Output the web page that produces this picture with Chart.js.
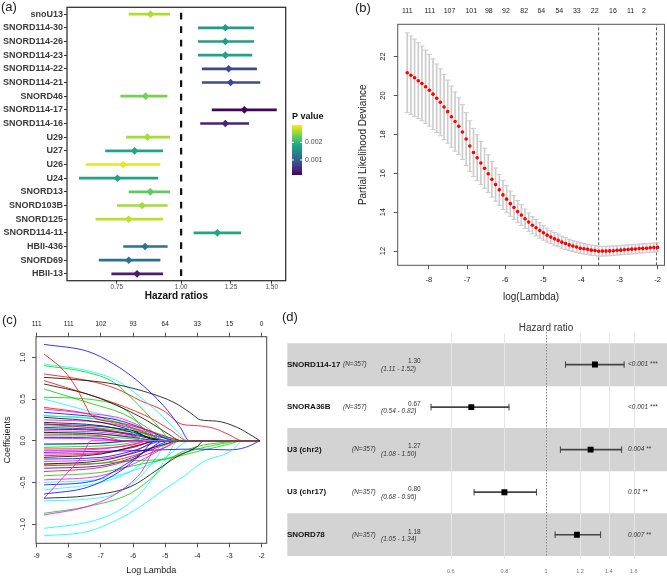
<!DOCTYPE html>
<html>
<head>
<meta charset="utf-8">
<script src="https://cdn.jsdelivr.net/npm/chart.js@4.4.1/dist/chart.umd.min.js"></script>
<style>
  body { margin: 0; background: #fff; }
  #page { position: relative; width: 667px; height: 576px; overflow: hidden; font-family: "Liberation Sans", Arial, sans-serif; }
  canvas { position: absolute; }
  .tag { position: absolute; font-size: 13px; line-height: 13px; color: #222; }
</style>
</head>
<body>
<div id="page">
  <canvas id="chartA" width="333" height="305" style="left:0;top:0"></canvas>
  <canvas id="chartB" width="334" height="305" style="left:333px;top:0"></canvas>
  <canvas id="chartC" width="280" height="271" style="left:0;top:305px"></canvas>
  <canvas id="chartD" width="387" height="276" style="left:280px;top:300px"></canvas>
  <div class="tag" style="left:1px;top:0px">(a)</div>
  <div class="tag" style="left:355px;top:1px">(b)</div>
  <div class="tag" style="left:2px;top:313px">(c)</div>
  <div class="tag" style="left:282px;top:310px">(d)</div>
</div>
<script>
// ---------- panel (a): univariate hazard ratios ----------
const snoNames = ['snoU13','SNORD114-30','SNORD114-26','SNORD114-23','SNORD114-22','SNORD114-21','SNORD46',
  'SNORD114-17','SNORD114-16','U29','U27','U26','U24','SNORD13','SNORD103B','SNORD125','SNORD114-11',
  'HBII-436','SNORD69','HBII-13'];
const hrA = [0.872,1.219,1.219,1.219,1.237,1.248,0.853,1.327,1.219,0.860,0.812,0.772,0.752,0.871,0.840,0.791,1.176,0.851,0.791,0.821];
const loA = [0.792,1.080,1.080,1.080,1.099,1.099,0.763,1.149,1.091,0.783,0.713,0.653,0.634,0.792,0.752,0.683,1.059,0.773,0.693,0.733];
const hiA = [0.950,1.384,1.384,1.373,1.402,1.423,0.939,1.532,1.353,0.950,0.921,0.910,0.901,0.950,0.940,0.921,1.306,0.940,0.910,0.921];
const pA  = [0.00264,0.0017,0.0017,0.00178,0.00077,0.0008,0.0024,0.00018,0.00043,0.0026,0.0018,0.0029,0.00176,0.00227,0.0026,0.0027,0.0018,0.0012,0.0012,0.00038];
const hrTicksA = [0.75, 1.00, 1.25, 1.50];
const pLegendTicks = [0.001, 0.002];
const pMin = 0.00015, pMax = 0.00298;

// ---------- panel (b): cross-validation curve ----------
const cvLogLambda = [-8.570,-8.473,-8.377,-8.280,-8.184,-8.087,-7.990,-7.894,-7.797,-7.701,
  -7.604,-7.507,-7.411,-7.314,-7.218,-7.121,-7.024,-6.928,-6.831,-6.735,
  -6.638,-6.541,-6.445,-6.348,-6.252,-6.155,-6.058,-5.962,-5.865,-5.769,
  -5.672,-5.575,-5.479,-5.382,-5.286,-5.189,-5.092,-4.996,-4.899,-4.803,
  -4.706,-4.609,-4.513,-4.416,-4.320,-4.223,-4.126,-4.030,-3.933,-3.837,
  -3.740,-3.643,-3.547,-3.450,-3.354,-3.257,-3.160,-3.064,-2.967,-2.871,
  -2.774,-2.677,-2.581,-2.484,-2.388,-2.291,-2.194,-2.098,-2.001];
const cvMean = [21.17,21.04,20.91,20.76,20.62,20.45,20.27,20.07,19.86,19.65,
  19.41,19.17,18.91,18.66,18.42,18.12,17.76,17.40,17.07,16.80,
  16.53,16.26,15.98,15.69,15.42,15.15,14.89,14.67,14.44,14.24,
  14.03,13.85,13.66,13.49,13.33,13.20,13.06,12.94,12.82,12.72,
  12.63,12.55,12.46,12.39,12.32,12.26,12.21,12.15,12.12,12.09,
  12.05,12.03,11.99,12.00,12.00,12.01,12.02,12.04,12.05,12.07,
  12.08,12.10,12.11,12.13,12.14,12.15,12.17,12.18,12.19];
const cvSE = [2.05,2.02,1.99,1.95,1.92,1.88,1.85,1.81,1.76,1.72,
  1.67,1.62,1.57,1.52,1.46,1.41,1.36,1.30,1.24,1.18,
  1.10,1.03,0.97,0.91,0.85,0.80,0.75,0.70,0.65,0.61,
  0.57,0.53,0.50,0.47,0.44,0.42,0.40,0.38,0.36,0.34,
  0.33,0.32,0.31,0.30,0.29,0.28,0.28,0.27,0.27,0.26,
  0.26,0.26,0.25,0.25,0.25,0.25,0.24,0.24,0.24,0.24,
  0.24,0.24,0.24,0.23,0.23,0.23,0.23,0.23,0.23];
const lambdaMin = -3.547, lambda1se = -2.03;
const cvTopAt = [-8.57,-7.98,-7.46,-6.89,-6.43,-5.98,-5.50,-5.05,-4.58,-4.12,-3.65,-3.17,-2.71,-2.36];
const cvTopLabels = ['111','111','107','101','98','92','82','64','54','33','22','16','11','2'];
const cvXTicks = [-8,-7,-6,-5,-4,-3,-2];
const cvYTicks = [12,14,16,18,20,22];

// ---------- panel (c): coefficient paths [log lambda, coefficient] ----------
const coefPaths = [
  [[-8.77,0.76],[-7.4,0.72],[-6.6,0.68],[-5.56,0.58],[-4.73,0.46],[-4.2,0.33],[-3.9,0.25],[-3.4,0.235],[-2.76,0.16],[-2.3,0.06],[-2.05,0]],
  [[-8.77,1.04],[-8.15,0.84],[-7.74,0.62],[-7.45,0.40],[-7.3,0.30],[-6.5,0.22],[-5.5,0.12],[-4.8,0.03],[-4.5,0],[-2.05,0]],
  [[-8.77,0.90],[-7.43,0.82],[-6.6,0.70],[-6.07,0.52],[-5.56,0.32],[-5.1,0.12],[-4.8,0],[-2.05,0]],
  [[-8.77,1.155],[-7.4,1.07],[-6.6,0.92],[-5.87,0.72],[-5.05,0.42],[-4.53,0.16],[-4.25,0],[-2.05,0]],
  [[-8.77,0.92],[-7.43,0.84],[-6.5,0.72],[-5.77,0.52],[-5.05,0.28],[-4.6,0.1],[-4.3,0],[-2.05,0]],
  [[-8.77,0.38],[-7.5,0.33],[-6.5,0.28],[-5.8,0.18],[-5.0,0],[-2.05,0]],

  [[-8.77,0.68],[-7.43,0.56],[-6.6,0.44],[-5.56,0.24],[-4.9,0.08],[-4.5,0],[-2.05,0]],
  [[-8.77,0.80],[-7.4,0.72],[-6.5,0.62],[-5.77,0.48],[-5.05,0.36],[-4.5,0.2],[-4.0,0.18],[-3.5,0.15],[-3.0,0.07],[-2.6,0],[-2.05,0]],
  [[-8.77,0.62],[-7.43,0.46],[-6.3,0.32],[-5.5,0.14],[-5.0,0],[-2.05,0]],
  [[-8.77,0.34],[-7.5,0.30],[-6.5,0.25],[-5.5,0.12],[-4.7,0],[-2.05,0]],
  [[-8.77,0.50],[-7.43,0.36],[-6.5,0.25],[-6.0,0.1],[-5.6,0],[-2.05,0]],
  [[-8.77,-0.89],[-7.43,-0.79],[-6.5,-0.63],[-5.77,-0.39],[-5.1,0],[-2.05,0]],

  [[-8.77,0.28],[-7.0,0.22],[-6.0,0.12],[-5.2,0],[-2.05,0]],
  [[-8.77,0.72],[-7.43,0.56],[-6.5,0.44],[-5.5,0.28],[-4.8,0.12],[-4.3,0],[-2.05,0]],
  [[-8.77,0.52],[-7.43,0.50],[-6.2,0.36],[-5.7,0.15],[-5.3,0],[-2.05,0]],
  [[-8.77,-0.64],[-7.43,-0.56],[-6.5,-0.39],[-5.77,-0.17],[-5.3,0],[-2.05,0]],
  [[-8.77,0.30],[-7.0,0.26],[-6.0,0.18],[-5.0,0.05],[-4.5,0],[-2.05,0]],
  [[-8.77,-0.69],[-8.15,-0.43],[-7.6,-0.19],[-7.3,0],[-2.05,0]],

  [[-8.77,-0.69],[-7.43,-0.66],[-6.07,-0.55],[-5.25,-0.35],[-4.63,-0.19],[-4.0,-0.07],[-3.8,0],[-2.05,0]],
  [[-8.77,0.40],[-7.5,0.33],[-6.5,0.22],[-5.5,0.08],[-5.0,0],[-2.05,0]],
  [[-8.77,-0.87],[-7.43,-0.79],[-6.07,-0.63],[-5.25,-0.39],[-4.73,-0.19],[-4.0,-0.07],[-3.2,-0.02],[-2.55,0],[-2.05,0]],
  [[-8.77,-0.53],[-7.2,-0.48],[-6.3,-0.3],[-5.5,-0.1],[-5.0,0],[-2.05,0]],
  [[-8.77,-1.14],[-7.43,-1.09],[-6.5,-0.95],[-5.77,-0.79],[-5.05,-0.59],[-4.43,-0.43],[-3.8,-0.25],[-2.97,-0.13],[-2.55,0],[-2.05,0]],
  [[-8.77,-0.47],[-7.0,-0.42],[-6.0,-0.28],[-5.0,-0.08],[-4.6,0],[-2.05,0]],

  [[-8.77,-0.28],[-7.0,-0.24],[-6.0,-0.15],[-5.0,-0.04],[-4.6,0],[-2.05,0]],
  [[-8.77,-0.37],[-7.0,-0.32],[-6.0,-0.22],[-5.0,-0.08],[-4.5,0],[-2.05,0]],
  [[-8.77,-0.42],[-7.0,-0.38],[-6.0,-0.3],[-5.0,-0.22],[-4.0,-0.1],[-3.0,-0.02],[-2.6,0],[-2.05,0]],
  [[-8.77,-0.14],[-6.0,-0.12],[-4.0,-0.1],[-3.0,-0.11],[-2.5,-0.08],[-2.05,0]],
  [[-8.77,-1.05],[-7.43,-0.98],[-6.5,-0.85],[-5.87,-0.67],[-5.35,-0.43],[-4.94,-0.19],[-4.6,0],[-2.05,0]],
  [[-8.77,-0.12],[-7.0,-0.1],[-6.0,-0.04],[-5.5,0],[-2.05,0]],

  [[-8.77,-0.2],[-7.0,-0.16],[-5.8,-0.05],[-5.2,0],[-2.05,0]],
  [[-8.77,-0.18],[-7.0,-0.15],[-6.0,-0.08],[-5.3,0],[-2.05,0]],
  [[-8.77,-0.28],[-7.0,-0.27],[-6.0,-0.24],[-5.0,-0.22],[-4.0,-0.13],[-3.0,-0.04],[-2.6,0],[-2.05,0]],
  [[-8.77,-0.22],[-7.0,-0.2],[-6.0,-0.12],[-5.0,0],[-2.05,0]],
  [[-8.77,-0.72],[-7.43,-0.70],[-6.5,-0.63],[-5.77,-0.43],[-5.25,-0.19],[-4.9,0],[-2.05,0]],
  [[-8.77,0.12],[-7.0,0.1],[-6.0,0.05],[-5.4,0],[-2.05,0]],

  [[-8.77,0.22],[-7.0,0.18],[-6.0,0.1],[-5.0,0],[-2.05,0]],
  [[-8.77,0.2],[-7.0,0.14],[-6.0,0.06],[-5.5,0],[-2.05,0]],
  [[-8.77,-0.08],[-6.5,-0.05],[-5.5,0],[-2.05,0]],
  [[-8.77,0.16],[-7.0,0.13],[-6.0,0.08],[-4.8,0],[-2.05,0]],
  [[-8.77,-0.59],[-7.0,-0.50],[-6.0,-0.35],[-5.3,-0.12],[-4.8,0],[-2.05,0]],
  [[-8.77,0.03],[-7.0,0.02],[-6.2,0],[-2.05,0]],

  [[-8.77,0.10],[-7.0,0.08],[-6.0,0.04],[-5.2,0],[-2.05,0]],
  [[-8.77,0.08],[-7.0,0.06],[-6.3,0],[-2.05,0]],
  [[-8.77,0.18],[-7.0,0.15],[-6.0,0.1],[-5.0,0.04],[-4.4,0],[-2.05,0]],
  [[-8.77,0.04],[-7.0,0.03],[-6.5,0],[-2.05,0]],
  [[-8.77,-0.50],[-7.0,-0.46],[-6.0,-0.36],[-5.0,-0.2],[-4.2,0],[-2.05,0]],
  [[-8.77,0.25],[-7.0,0.22],[-6.0,0.15],[-5.0,0.05],[-4.5,0],[-2.05,0]],

  [[-8.77,-0.04],[-7.0,-0.03],[-6.0,0],[-2.05,0]],
  [[-8.77,-0.3],[-7.0,-0.27],[-6.0,-0.18],[-5.0,-0.05],[-4.6,0],[-2.05,0]],
  [[-8.77,0.06],[-7.0,0.05],[-6.0,0.02],[-5.6,0],[-2.05,0]],
  [[-8.77,-0.33],[-7.0,-0.3],[-6.0,-0.2],[-5.2,-0.05],[-4.8,0],[-2.05,0]],
  [[-8.77,-0.05],[-6.5,-0.02],[-6.0,0],[-2.05,0]],
  [[-8.77,-0.25],[-7.0,-0.22],[-6.0,-0.14],[-5.2,0],[-2.05,0]],

  [[-8.77,0.14],[-7.0,0.12],[-6.0,0.07],[-5.0,0],[-2.05,0]],
  [[-8.77,-0.1],[-7.0,-0.09],[-6.0,-0.05],[-5.5,0],[-2.05,0]],
  [[-8.77,0.3],[-7.0,0.25],[-6.0,0.14],[-5.2,0.02],[-4.9,0],[-2.05,0]],
  [[-8.77,0.2],[-7.0,0.17],[-6.0,0.12],[-5.0,0.03],[-4.6,0],[-2.05,0]],
  [[-8.77,0.1],[-7.0,0.08],[-6.0,0.03],[-5.6,0],[-2.05,0]],
  [[-8.77,-0.16],[-7.0,-0.14],[-6.0,-0.08],[-5.2,0],[-2.05,0]]
];
const coefXTicks = [-9,-8,-7,-6,-5,-4,-3,-2];
const coefTopLabels = ['111','111','102','93','64','33','15','0'];
const coefYTicks = [-1,-0.5,0,0.5,1];

// ---------- panel (d): multivariate hazard ratios ----------
const hrNames = ['SNORD114-17','SNORA36B','U3 (chr2)','U3 (chr17)','SNORD78'];
const hrD = [1.30,0.67,1.27,0.80,1.18];
const loD = [1.11,0.54,1.08,0.68,1.05];
const hiD = [1.52,0.82,1.50,0.95,1.34];
const nD = [357,357,357,357,357];
const pTextD = ['<0.001','<0.001','0.004','0.01','0.007'];
const starsD = ['***','***','**','**','**'];
const hrTicksD = [0.6,0.8,1,1.2,1.4,1.6];

// ---------- helpers ----------
const FONT = '"Liberation Sans", Arial, sans-serif';
Chart.defaults.font.family = FONT;
const rPalette = ['#000000','#FF0000','#00CD00','#0000FF','#00FFFF','#FF00FF'];
const viridisStops = ['#440154','#482475','#414487','#355f8d','#2a788e','#21918c','#22a884','#44bf70','#7ad151','#bddf26','#fde725'];

function hexRgb(h) { return [1,3,5].map(i => parseInt(h.substr(i,2),16)); }
function viridis(t) {
  t = Math.min(1, Math.max(0, t));
  const f = t * (viridisStops.length - 1);
  const i = Math.min(Math.floor(f), viridisStops.length - 2);
  const a = hexRgb(viridisStops[i]), b = hexRgb(viridisStops[i+1]), u = f - i;
  return 'rgb(' + a.map((v,k) => Math.round(v + (b[k]-v)*u)).join(',') + ')';
}
const colorsA = pA.map(p => viridis((p - pMin) / (pMax - pMin)));

function frame(color, width) {
  return { id: 'frame', afterDatasetsDraw(chart) {
    const {ctx, chartArea: a} = chart;
    ctx.save(); ctx.strokeStyle = color; ctx.lineWidth = width;
    ctx.strokeRect(a.left, a.top, a.right - a.left, a.bottom - a.top);
    ctx.restore();
  }};
}

function rotatedYLabels(offset, size, fmt) {
  return { id: 'rotY', afterDraw(chart) {
    const ctx = chart.ctx, ys = chart.scales.y;
    ctx.save();
    ctx.font = size + 'px ' + FONT; ctx.fillStyle = '#222';
    ctx.textAlign = 'center'; ctx.textBaseline = 'middle';
    ys.ticks.forEach(t => {
      ctx.save();
      ctx.translate(chart.chartArea.left - offset, ys.getPixelForValue(t.value));
      ctx.rotate(-Math.PI / 2);
      ctx.fillText(fmt(t.value), 0, 0);
      ctx.restore();
    });
    ctx.restore();
  }};
}

const noLegend = { legend: { display: false }, tooltip: { enabled: false } };

// ---------- chart (a) ----------
const refLineA = { id: 'refLineA', beforeDatasetsDraw(chart) {
  const {ctx, chartArea: a, scales: {x}} = chart;
  const px = x.getPixelForValue(1);
  ctx.save(); ctx.strokeStyle = '#111'; ctx.lineWidth = 2.2; ctx.setLineDash([6.8, 6.7]);
  ctx.beginPath(); ctx.moveTo(px, a.top + 5.4); ctx.lineTo(px, a.bottom - 2); ctx.stroke();
  ctx.restore();
}};

const colorBar = { id: 'colorBar', afterDraw(chart) {
  const ctx = chart.ctx;
  const x0 = 292, x1 = 302, yTop = 125, yBot = 175;
  ctx.save();
  const g = ctx.createLinearGradient(0, yBot, 0, yTop);
  viridisStops.forEach((c, i) => g.addColorStop(i / (viridisStops.length - 1), c));
  ctx.fillStyle = g; ctx.fillRect(x0, yTop, x1 - x0, yBot - yTop);
  ctx.strokeStyle = '#fff'; ctx.lineWidth = 1;
  ctx.font = '7px ' + FONT; ctx.textBaseline = 'middle'; ctx.textAlign = 'left';
  pLegendTicks.forEach(p => {
    const py = yBot - (p - pMin) / (pMax - pMin) * (yBot - yTop);
    ctx.beginPath(); ctx.moveTo(x0, py); ctx.lineTo(x0 + 2, py); ctx.moveTo(x1 - 2, py); ctx.lineTo(x1, py); ctx.stroke();
    ctx.fillStyle = '#4d4d4d'; ctx.fillText(p.toFixed(3), x1 + 3, py);
  });
  ctx.fillStyle = '#111'; ctx.font = 'bold 9px ' + FONT;
  ctx.fillText('P value', 292, 117);
  ctx.restore();
}};

new Chart(document.getElementById('chartA'), {
  type: 'bar',
  data: {
    labels: snoNames,
    datasets: [
      { type: 'bar', indexAxis: 'y', order: 2, data: snoNames.map((n, i) => [loA[i], hiA[i]]),
        backgroundColor: colorsA, barThickness: 2, grouped: false, borderWidth: 0 },
      { type: 'line', indexAxis: 'y', order: 1, data: snoNames.map((n, i) => ({x: hrA[i], y: n})),
        showLine: false, pointStyle: 'rectRot', pointRadius: 3.8, pointBorderWidth: 0,
        pointBackgroundColor: colorsA, pointBorderColor: colorsA }
    ]
  },
  options: {
    indexAxis: 'y', responsive: false, animation: false,
    layout: { padding: { left: 0, right: 47.3, top: 7.3, bottom: 0 }, autoPadding: false },
    plugins: noLegend,
    scales: {
      x: {
        type: 'logarithmic', min: 0.608, max: 1.597, offset: false,
        afterBuildTicks: s => { s.ticks = hrTicksA.map(v => ({value: v})); },
        afterFit: s => { s.height = 24.3; },
        ticks: { font: { size: 6.5 }, color: '#4d4d4d', padding: 0, callback: v => Number(v).toFixed(2) },
        grid: { drawOnChartArea: false, tickLength: 3, color: '#333' },
        border: { display: false },
        title: { display: true, text: 'Hazard ratios', color: '#111', font: { size: 10, weight: 'bold' }, padding: { top: 0, bottom: 2.5 } }
      },
      y: {
        type: 'category', offset: true,
        afterFit: s => { s.width = 67; },
        ticks: { font: { size: 9, weight: 'bold' }, color: '#3a3a3a', padding: 1, autoSkip: false },
        grid: { drawOnChartArea: false, tickLength: 3, color: '#333', offset: false },
        border: { display: false }
      }
    }
  },
  plugins: [refLineA, frame('#333', 1.3), colorBar]
});

// ---------- chart (b) ----------
new Chart(document.getElementById('chartB'), {
  type: 'bar',
  data: {
    datasets: [
      { type: 'bar', order: 3, data: cvLogLambda.map((x, i) => ({x: x, y: [cvMean[i] - cvSE[i], cvMean[i] + cvSE[i]]})),
        backgroundColor: '#cccccc', barThickness: 1, grouped: false, borderWidth: 0 },
      { type: 'line', order: 3, data: cvLogLambda.flatMap((x, i) => [{x: x, y: cvMean[i] - cvSE[i]}, {x: x, y: cvMean[i] + cvSE[i]}]),
        showLine: false, pointStyle: 'line', pointRadius: 2.5, pointBorderColor: '#cccccc', pointBorderWidth: 1 },
      { type: 'line', order: 1, data: cvLogLambda.map((x, i) => ({x: x, y: cvMean[i]})),
        showLine: false, pointRadius: 1.8, pointBorderWidth: 0, pointBackgroundColor: '#ff0000' },
      { type: 'line', order: 4, data: [{x: lambdaMin, y: 11.27}, {x: lambdaMin, y: 23.66}],
        borderColor: '#555', borderWidth: 1, borderDash: [3, 2], pointRadius: 0 },
      { type: 'line', order: 4, data: [{x: lambda1se, y: 11.27}, {x: lambda1se, y: 23.66}],
        borderColor: '#555', borderWidth: 1, borderDash: [3, 2], pointRadius: 0 }
    ]
  },
  options: {
    responsive: false, animation: false,
    layout: { padding: { left: 0, right: 2, top: 0, bottom: 0 }, autoPadding: false },
    plugins: noLegend,
    scales: {
      x: {
        type: 'linear', min: -8.82, max: -1.82, position: 'bottom', offset: false,
        afterBuildTicks: s => { s.ticks = cvXTicks.map(v => ({value: v})); },
        afterFit: s => { s.height = 39.7; },
        ticks: { font: { size: 7.5 }, color: '#222', padding: 6 },
        grid: { drawOnChartArea: false, tickLength: 4, color: '#555', offset: false },
        border: { display: false },
        title: { display: true, text: 'log(Lambda)', color: '#222', font: { size: 10 }, padding: { top: 0, bottom: 2 } }
      },
      xTop: {
        axis: 'x', type: 'linear', min: -8.82, max: -1.82, position: 'top', offset: false,
        afterBuildTicks: s => { s.ticks = cvTopAt.map(v => ({value: v})); },
        afterFit: s => { s.height = 24.3; },
        ticks: { font: { size: 7 }, color: '#222', padding: 9, autoSkip: false, maxRotation: 0,
          callback: (v, i) => cvTopLabels[i] },
        grid: { display: false, drawTicks: false, offset: false },
        border: { display: false }
      },
      y: {
        type: 'linear', min: 11.27, max: 23.66,
        afterBuildTicks: s => { s.ticks = cvYTicks.map(v => ({value: v})); },
        afterFit: s => { s.width = 64.7; },
        ticks: { display: false },
        grid: { drawOnChartArea: false, tickLength: 4, color: '#555' },
        border: { display: false },
        title: { display: true, text: 'Partial Likelihood Deviance', color: '#222', font: { size: 10 }, padding: { top: 24, bottom: 0 } }
      }
    }
  },
  plugins: [frame('#555', 1), rotatedYLabels(14.4, 7.5, v => String(v))]
});

// ---------- chart (c) ----------
new Chart(document.getElementById('chartC'), {
  type: 'line',
  data: {
    datasets: coefPaths.map((path, i) => ({
      data: path.map(([x, y]) => ({x: x, y: y})),
      borderColor: rPalette[i % rPalette.length], borderWidth: 0.8,
      pointRadius: 0, cubicInterpolationMode: 'monotone', fill: false
    }))
  },
  options: {
    responsive: false, animation: false,
    layout: { padding: { left: 0, right: 13.3, top: 0, bottom: 0 }, autoPadding: false },
    plugins: noLegend,
    scales: {
      x: {
        type: 'linear', min: -9.02, max: -1.84, position: 'bottom',
        afterBuildTicks: s => { s.ticks = coefXTicks.map(v => ({value: v})); },
        afterFit: s => { s.height = 32.7; },
        ticks: { font: { size: 7 }, color: '#222', padding: 4.5 },
        grid: { drawOnChartArea: false, tickLength: 4, color: '#555' },
        border: { display: false },
        title: { display: true, text: 'Log Lambda', color: '#222', font: { size: 9 }, padding: { top: 0, bottom: 0 } }
      },
      xTop: {
        axis: 'x', type: 'linear', min: -9.02, max: -1.84, position: 'top',
        afterBuildTicks: s => { s.ticks = coefXTicks.map(v => ({value: v})); },
        afterFit: s => { s.height = 31.7; },
        ticks: { font: { size: 6.5 }, color: '#222', padding: 4.8, autoSkip: false, maxRotation: 0,
          callback: (v, i) => coefTopLabels[i] },
        grid: { drawOnChartArea: false, tickLength: 4, color: '#555' },
        border: { display: false }
      },
      y: {
        type: 'linear', min: -1.23, max: 1.247,
        afterBuildTicks: s => { s.ticks = coefYTicks.map(v => ({value: v})); },
        afterFit: s => { s.width = 36; },
        ticks: { display: false },
        grid: { drawOnChartArea: false, tickLength: 4, color: '#555' },
        border: { display: false },
        title: { display: true, text: 'Coefficients', color: '#222', font: { size: 9 }, padding: { top: 2.6, bottom: 0 } }
      }
    }
  },
  plugins: [frame('#444', 1), rotatedYLabels(13, 7, v => v.toFixed(1))]
});

// ---------- chart (d) ----------
const gridD = { id: 'gridD', afterDatasetDraw(chart, args) {
  if (args.index !== 0) return;
  const {ctx, chartArea: a, scales: {x}} = chart;
  ctx.save(); ctx.lineWidth = 1; ctx.strokeStyle = '#e6e6e6';
  hrTicksD.forEach(v => {
    if (v === 1) return;
    const px = Math.round(x.getPixelForValue(v)) + 0.5;
    ctx.beginPath(); ctx.moveTo(px, 33); ctx.lineTo(px, a.bottom + 3); ctx.stroke();
  });
  const p1 = Math.round(x.getPixelForValue(1)) + 0.5;
  ctx.strokeStyle = '#8a8a8a'; ctx.setLineDash([1.5, 1.5]);
  ctx.beginPath(); ctx.moveTo(p1, 32); ctx.lineTo(p1, a.bottom); ctx.stroke();
  ctx.restore();
}};

const nColX = [63, 63, 72, 72, 72];
const tableD = { id: 'tableD', afterDatasetsDraw(chart) {
  const {ctx, scales: {y}} = chart;
  ctx.save(); ctx.textBaseline = 'middle'; ctx.textAlign = 'left';
  hrNames.forEach((name, i) => {
    const py = y.getPixelForValue(i);
    ctx.fillStyle = '#111';
    ctx.font = 'bold 8px ' + FONT; ctx.fillText(name, 7, py);
    ctx.fillStyle = '#333';
    ctx.font = 'italic 6.5px ' + FONT; ctx.fillText('(N=' + nD[i] + ')', nColX[i], py);
    ctx.font = '6.5px ' + FONT; ctx.fillText(hrD[i].toFixed(2), 128, py - 3);
    ctx.font = 'italic 6.5px ' + FONT;
    ctx.fillText('(' + loD[i].toFixed(2) + ' - ' + hiD[i].toFixed(2) + ')', 101, py + 4.5);
    ctx.fillText(pTextD[i] + ' ' + starsD[i], 348, py);
  });
  ctx.font = '10px ' + FONT; ctx.textAlign = 'center'; ctx.fillStyle = '#333';
  ctx.fillText('Hazard ratio', 266, 28);
  ctx.restore();
}};

new Chart(document.getElementById('chartD'), {
  type: 'bar',
  data: {
    labels: hrNames,
    datasets: [
      { type: 'bar', indexAxis: 'y', order: 9, data: hrNames.map((n, i) => i % 2 === 0 ? [0.2498, 1.913] : null),
        backgroundColor: '#d3d3d3', barPercentage: 1, categoryPercentage: 1, grouped: false, borderWidth: 0 },
      { type: 'bar', indexAxis: 'y', order: 3, data: hrNames.map((n, i) => [loD[i], hiD[i]]),
        backgroundColor: '#444', barThickness: 1, grouped: false, borderWidth: 0 },
      { type: 'line', indexAxis: 'y', order: 2, data: hrNames.flatMap((n, i) => [{x: loD[i], y: n}, {x: hiD[i], y: n}]),
        showLine: false, pointStyle: 'line', rotation: 90, pointRadius: 3.3, pointBorderColor: '#444', pointBorderWidth: 1 },
      { type: 'line', indexAxis: 'y', order: 1, data: hrNames.map((n, i) => ({x: hrD[i], y: n})),
        showLine: false, pointStyle: 'rect', pointRadius: 4.2, pointBorderWidth: 0, pointBackgroundColor: '#000' }
    ]
  },
  options: {
    indexAxis: 'y', responsive: false, animation: false,
    layout: { padding: { left: 0, right: 0, top: 43.3, bottom: 0 }, autoPadding: false },
    plugins: noLegend,
    scales: {
      x: {
        type: 'logarithmic', min: 0.2498, max: 1.913,
        afterBuildTicks: s => { s.ticks = hrTicksD.map(v => ({value: v})); },
        afterFit: s => { s.height = 20; },
        ticks: { font: { size: 5.5 }, color: '#777', padding: 12, callback: v => String(v) },
        grid: { display: false, drawTicks: false },
        border: { display: false }
      },
      y: {
        type: 'category', offset: true,
        afterFit: s => { s.width = 7.3; },
        ticks: { display: false },
        grid: { display: false, drawTicks: false },
        border: { display: false }
      }
    }
  },
  plugins: [gridD, tableD]
});
</script>
</body>
</html>
